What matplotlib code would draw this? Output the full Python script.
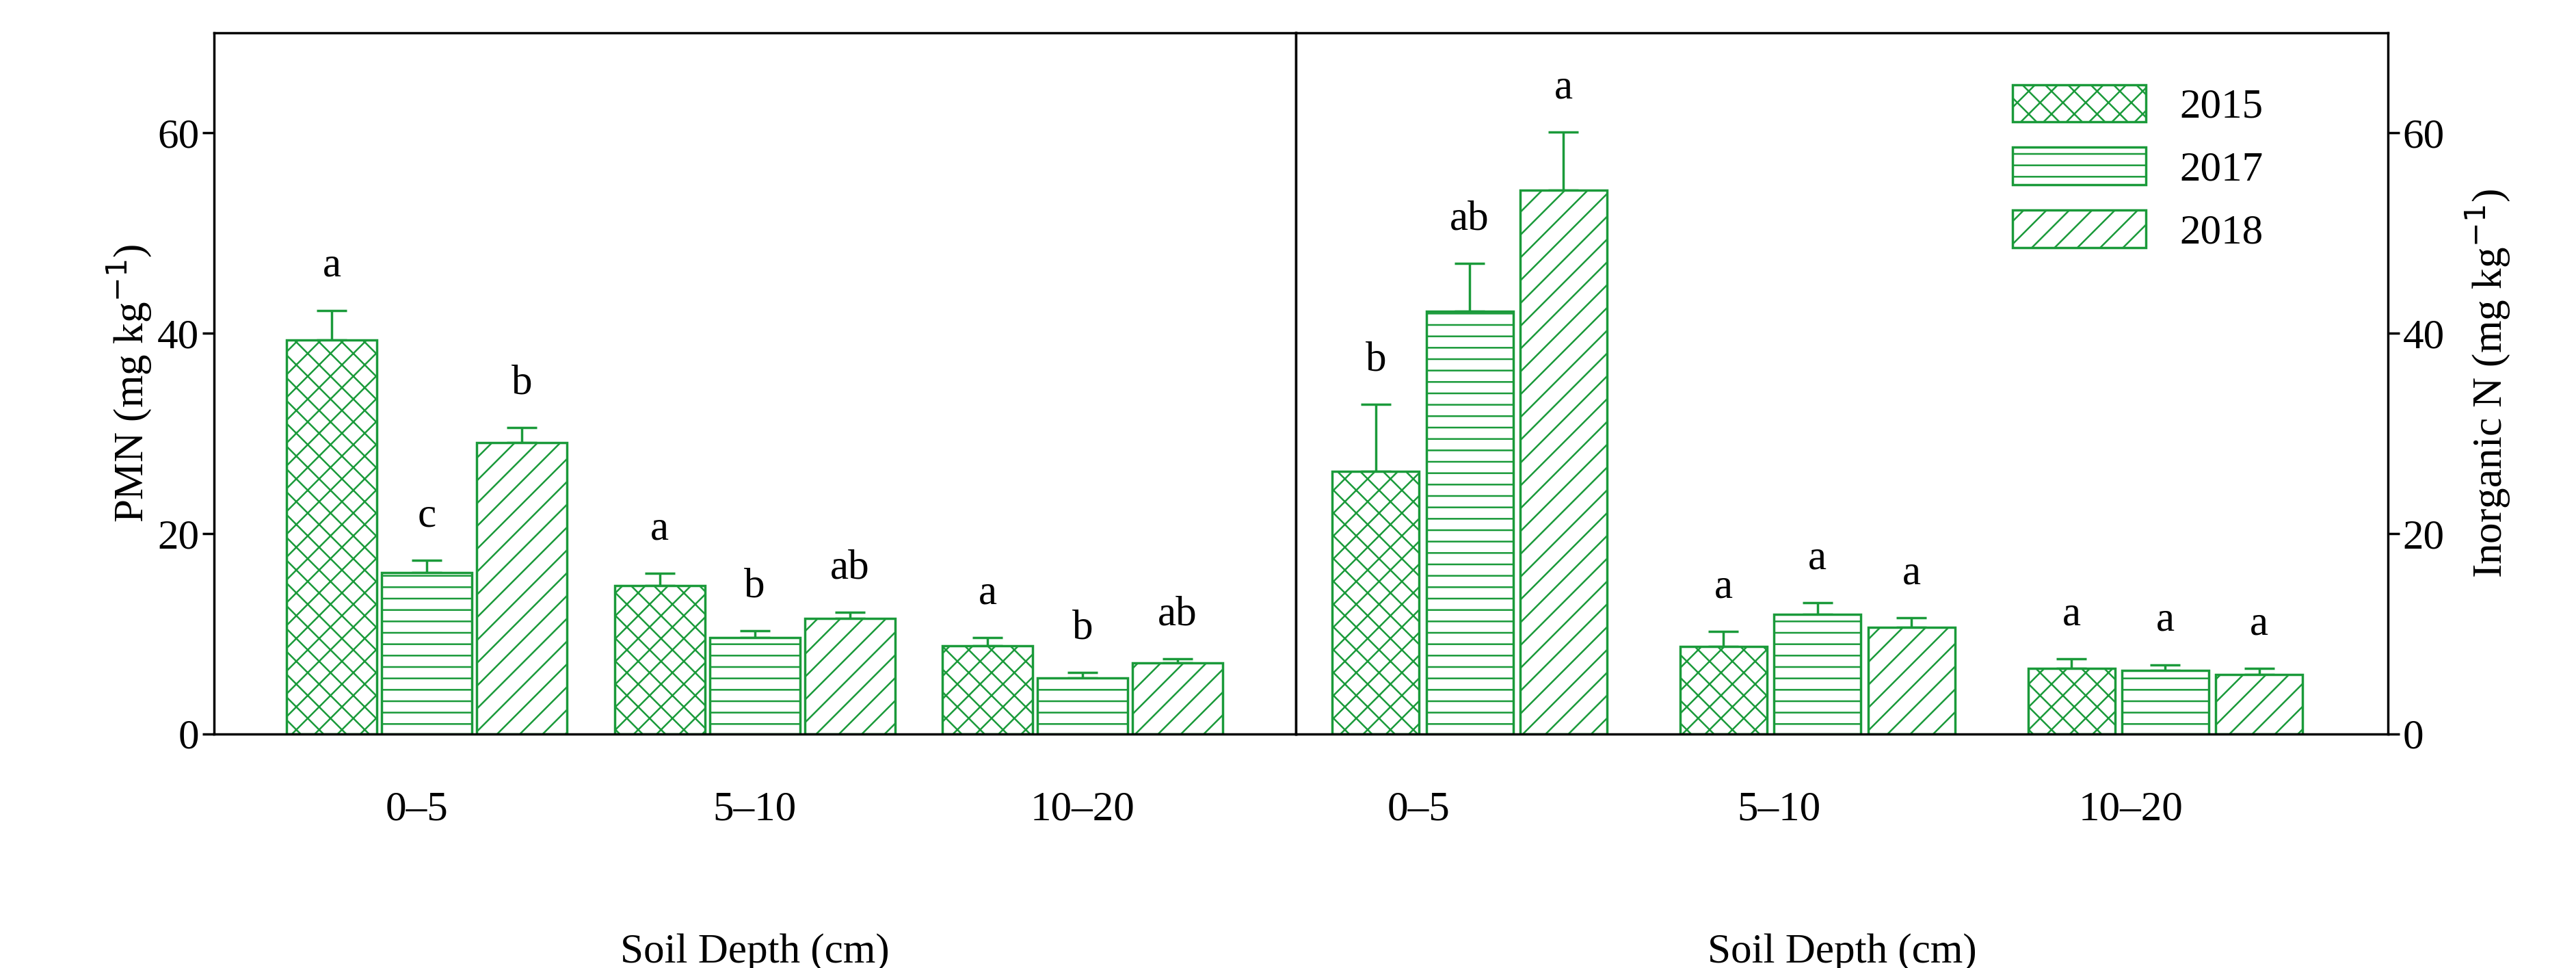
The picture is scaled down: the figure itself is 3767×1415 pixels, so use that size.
import numpy as np
import matplotlib.pyplot as plt

plt.rcParams["font.family"] = ["Liberation Serif", "DejaVu Serif"]
plt.rcParams["hatch.linewidth"] = 1.8

depths = ["0\u20135", "5\u201310", "10\u201320"]
years = ["2015", "2017", "2018"]
hatches = ["x", "-", "/"]

pmn = [[39.3, 14.8, 8.8], [16.1, 9.6, 5.6], [29.1, 11.5, 7.1]]
pmn_err = [[3.0, 1.2, 0.8], [1.2, 0.7, 0.5], [1.5, 0.6, 0.4]]
pmn_let = [["a", "a", "a"], ["c", "b", "b"], ["b", "ab", "ab"]]

inorg = [[26.2, 8.7, 6.5], [42.2, 11.9, 6.3], [54.3, 10.6, 5.9]]
inorg_err = [[6.7, 1.5, 1.0], [4.8, 1.2, 0.6], [5.8, 1.0, 0.6]]
inorg_let = [["b", "a", "a"], ["ab", "a", "a"], ["a", "a", "a"]]

green = "#1a9a3a"
fs = 44

fig = plt.figure(figsize=(37.67, 14.15), dpi=100)
ax1 = fig.add_axes([0.083, 0.242, 0.420, 0.724])
ax2 = fig.add_axes([0.503, 0.242, 0.424, 0.724])


def draw(ax, vals, errs, lets, width, off, ticks):
    x = np.arange(3)
    for i in range(3):
        xs = x + (i - 1) * off
        ax.bar(xs, vals[i], width, color="white", edgecolor=green,
               hatch=hatches[i], linewidth=2.5, label=years[i], zorder=2)
        ax.errorbar(xs, vals[i], yerr=[np.zeros(3), errs[i]], fmt="none",
                    ecolor=green, elinewidth=2.5, capsize=16, capthick=2.5, zorder=1)
        for xx, v, e, t in zip(xs, vals[i], errs[i], lets[i]):
            ax.text(xx, v + e + 2.5, t, ha="center", va="bottom", fontsize=fs)
    ax.set_ylim(0, 70)
    ax.set_yticks([0, 20, 40, 60])
    ax.set_xticks(ticks)
    ax.set_xticklabels(depths)
    ax.tick_params(axis="x", length=0, pad=60, labelsize=fs)
    ax.tick_params(axis="y", labelsize=fs, width=2.5, length=12)
    ax.set_xlabel("Soil Depth (cm)", fontsize=fs, labelpad=110)
    for s in ax.spines.values():
        s.set_linewidth(2.5)


draw(ax1, pmn, pmn_err, pmn_let, 0.275, 0.29, [-0.03, 1, 2])
ax1.set_xlim(-0.65, 2.65)
ax1.set_ylabel("PMN (mg kg$^{-1}$)", fontsize=fs)

draw(ax2, inorg, inorg_err, inorg_let, 0.25, 0.27, [-0.146, 0.89, 1.9])
ax2.set_xlim(-0.5, 2.64)
ax2.yaxis.tick_right()
ax2.yaxis.set_label_position("right")
ax2.set_ylabel("Inorganic N (mg kg$^{-1}$)", fontsize=fs, labelpad=20)
ax2.legend(loc="upper right", fontsize=fs, frameon=False, handlelength=3.2,
           handleheight=1.0, bbox_to_anchor=(0.92, 0.98))

fig.savefig("out.png", dpi=100)
